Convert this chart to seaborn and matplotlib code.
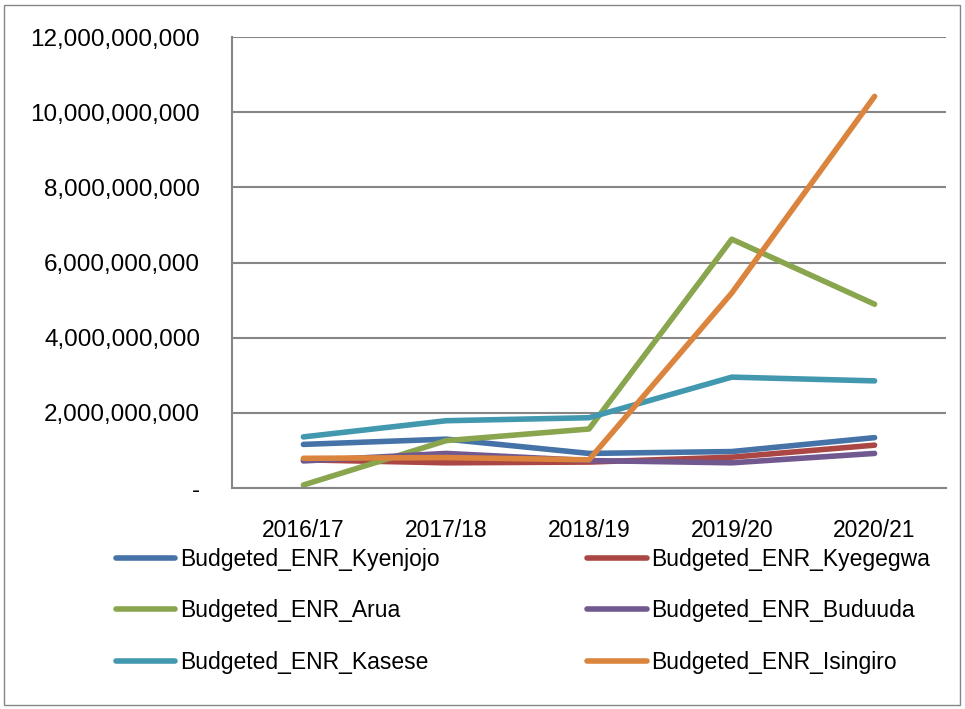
import matplotlib
matplotlib.use("Agg")
import matplotlib.pyplot as plt
import matplotlib.ticker as mticker
import matplotlib.patches as mpatches
import pandas as pd
import seaborn as sns

# data
years = ["2016/17", "2017/18", "2018/19", "2019/20", "2020/21"]
kyenjojo = [1.16e9, 1.30e9, 0.92e9, 0.97e9, 1.34e9]
kyegegwa = [0.75e9, 0.67e9, 0.69e9, 0.82e9, 1.14e9]
arua = [0.08e9, 1.26e9, 1.57e9, 6.62e9, 4.89e9]
buduuda = [0.72e9, 0.92e9, 0.73e9, 0.67e9, 0.92e9]
kasese = [1.36e9, 1.79e9, 1.87e9, 2.95e9, 2.85e9]
isingiro = [0.79e9, 0.81e9, 0.75e9, 5.19e9, 10.42e9]

series_names = ["Budgeted_ENR_Kyenjojo", "Budgeted_ENR_Kyegegwa", "Budgeted_ENR_Arua",
                "Budgeted_ENR_Buduuda", "Budgeted_ENR_Kasese", "Budgeted_ENR_Isingiro"]
series_vals = [kyenjojo, kyegegwa, arua, buduuda, kasese, isingiro]
colors = ["#4572A7", "#AA4643", "#89A54E", "#71588F", "#4198AF", "#DB843D"]

rows = []
for name, vals in zip(series_names, series_vals):
    for y, v in zip(years, vals):
        rows.append({"year": y, "value": v, "series": name})
df = pd.DataFrame(rows)

sns.set_style("white")
plt.rcParams["font.family"] = ["Liberation Sans", "DejaVu Sans"]
plt.rcParams["text.color"] = "black"
grid_c = "#868686"
fs = 16.5

fig = plt.figure(figsize=(9.65, 7.09), dpi=100)
ax = fig.add_axes([232/965, 1-488/709, (946-232)/965, (488-37)/709])

sns.lineplot(data=df, x="year", y="value", hue="series", palette=colors,
             hue_order=series_names, sort=False, linewidth=4, ax=ax, legend=True)

ax.set_xlim(-0.5, 4.5)
ax.set_ylim(0, 12e9)
ax.set_yticks([i * 2e9 for i in range(7)])
ax.yaxis.set_major_formatter(mticker.FuncFormatter(lambda v, p: "-" if v == 0 else f"{v:,.0f}"))
ax.yaxis.grid(True, color=grid_c, linewidth=1.5)
ax.set_axisbelow(True)
ax.set_xlabel("")
ax.set_ylabel("")

ax.set_xticks(range(len(years)))
ax.set_xticklabels(years)
ax.set_xticks([i - 0.5 for i in range(len(years) + 1)], minor=True)
ax.tick_params(axis="x", which="major", length=0, pad=22, labelsize=fs, labelcolor="black")
ax.tick_params(axis="x", which="minor", length=8, color=grid_c, width=1.5, direction="out")
ax.tick_params(axis="y", length=7, color=grid_c, width=1.5, direction="out", labelsize=17.5,
               pad=16, labelcolor="black")

for s in ["top", "right"]:
    ax.spines[s].set_visible(False)
for s in ["left", "bottom"]:
    ax.spines[s].set_color(grid_c)
    ax.spines[s].set_linewidth(1.5)

handles, labels = ax.get_legend_handles_labels()
ax.get_legend().remove()
# legend fills column by column: left column Kyenjojo/Arua/Kasese
order = [0, 2, 4, 1, 3, 5]
fig.legend([handles[i] for i in order], [labels[i] for i in order], ncol=2, loc="upper left",
           bbox_to_anchor=(95/965, 1-527/709), frameon=False, fontsize=fs,
           handlelength=2.6, handletextpad=0.2, columnspacing=6.45, labelspacing=1.26,
           labelcolor="black")

fig.patches.append(mpatches.Rectangle((4/965, 4/709), 956/965, 700/709, transform=fig.transFigure,
                                      fill=False, edgecolor=grid_c, linewidth=1))

fig.savefig("out.png", dpi=100)
